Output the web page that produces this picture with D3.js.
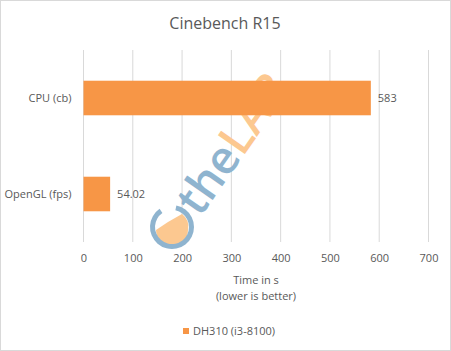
<!DOCTYPE html>
<html lang="en">
<head>
  <meta charset="UTF-8">
  <title>Cinebench R15</title>
  <script src="https://d3js.org/d3.v7.min.js"></script>
  <style>
    body { margin: 0; background: #fff; font-family: "Open Sans", sans-serif; }
    svg text { fill: #595959; }
  </style>
</head>
<body>
  <svg width="451" height="351"></svg>
  <script>
    const categories = ['CPU (cb)', 'OpenGL (fps)'];
    const values = [583, 54.02];
    const valueLabels = ['583', '54.02'];
    const xTicks = [0, 100, 200, 300, 400, 500, 600, 700];
    const seriesName = 'DH310 (i3-8100)';

    const svg = d3.select('svg');
    const W = 451, H = 351;
    const plot = { left: 83.5, right: 428.5, top: 50, bottom: 242 };
    const orange = '#f79646';

    // outer border
    svg.append('rect')
      .attr('x', 0.5).attr('y', 0.5)
      .attr('width', W - 1).attr('height', H - 1)
      .attr('fill', '#fff').attr('stroke', '#d9d9d9');

    const x = d3.scaleLinear().domain([0, 700]).range([plot.left, plot.right]);
    const y = d3.scaleBand().domain(categories).range([plot.top, plot.bottom]).paddingInner(0.64).paddingOuter(0.32);

    // gridlines
    svg.append('g')
      .selectAll('line')
      .data(xTicks)
      .join('line')
      .attr('x1', d => x(d)).attr('x2', d => x(d))
      .attr('y1', plot.top).attr('y2', plot.bottom)
      .attr('stroke', '#d9d9d9').attr('stroke-width', 1);

    // watermark (roughly)
    const wm = svg.append('g');
    wm.append('path')
      .attr('d', 'M156,230 A16,16 0 0 0 188,230 A16,16 0 0 0 182,214 L168,222 Z')
      .attr('fill', '#fcc890');
    wm.append('path')
      .attr('d', d3.arc()({ innerRadius: 17, outerRadius: 22, startAngle: 0.2, endAngle: 2 * Math.PI - 0.6 }))
      .attr('transform', 'translate(172,227)')
      .attr('fill', '#8fb4cf');
    const wmText = wm.append('text')
      .attr('transform', 'translate(200,218) rotate(-55)')
      .style('font-size', '46px')
      .style('font-weight', '600')
      .style('font-family', '"Open Sans", sans-serif');
    wmText.append('tspan').text('the').style('fill', '#8fb4cf');
    wmText.append('tspan').text('LAB').style('fill', '#fcc890');

    // bars
    svg.append('g')
      .selectAll('rect')
      .data(values)
      .join('rect')
      .attr('x', x(0))
      .attr('y', (d, i) => y(categories[i]))
      .attr('width', d => x(d) - x(0))
      .attr('height', y.bandwidth())
      .attr('fill', orange);

    // value labels
    svg.append('g')
      .selectAll('text')
      .data(values)
      .join('text')
      .attr('x', d => x(d) + 7)
      .attr('y', (d, i) => y(categories[i]) + y.bandwidth() / 2)
      .attr('dy', '0.35em')
      .style('font-size', '11px')
      .text((d, i) => valueLabels[i]);

    // category axis
    const yAxis = svg.append('g')
      .attr('transform', `translate(${plot.left},0)`)
      .call(d3.axisLeft(y).tickSize(0).tickPadding(12));
    yAxis.select('.domain').remove();
    yAxis.selectAll('text').style('font-size', '11px').style('font-family', '"Open Sans", sans-serif');

    // value axis
    const xAxis = svg.append('g')
      .attr('transform', `translate(0,${plot.bottom})`)
      .call(d3.axisBottom(x).tickValues(xTicks).tickSize(0).tickPadding(12));
    xAxis.select('.domain').remove();
    xAxis.selectAll('text').style('font-size', '11px').style('font-family', '"Open Sans", sans-serif');

    // title
    svg.append('text')
      .attr('x', 225).attr('y', 29)
      .attr('text-anchor', 'middle')
      .style('font-size', '16px')
      .text('Cinebench R15');

    // axis title
    svg.append('text')
      .attr('x', 256).attr('y', 284)
      .attr('text-anchor', 'middle')
      .style('font-size', '11px')
      .text('Time in s');
    svg.append('text')
      .attr('x', 256).attr('y', 300)
      .attr('text-anchor', 'middle')
      .style('font-size', '11px')
      .text('(lower is better)');

    // legend
    svg.append('rect')
      .attr('x', 183).attr('y', 328)
      .attr('width', 6).attr('height', 6)
      .attr('fill', orange);
    svg.append('text')
      .attr('x', 193).attr('y', 331)
      .attr('dy', '0.35em')
      .style('font-size', '11px')
      .text(seriesName);
  </script>
</body>
</html>
